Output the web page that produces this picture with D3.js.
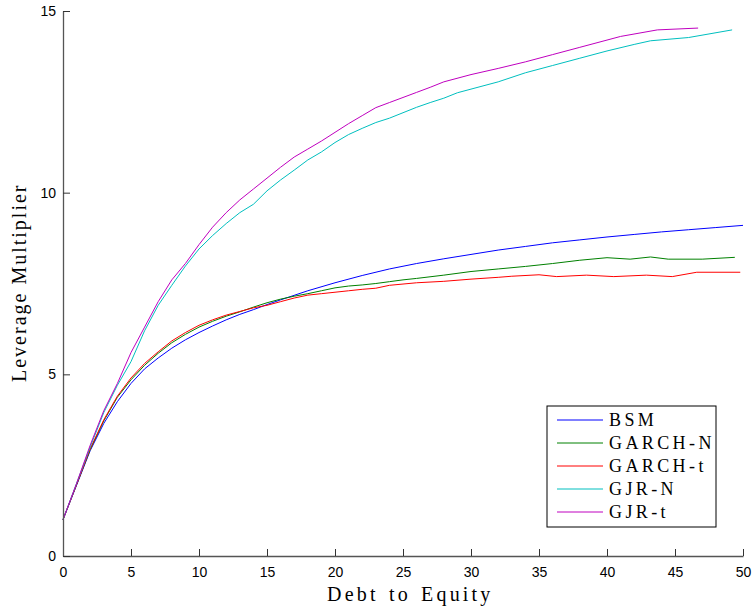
<!DOCTYPE html>
<html>
<head>
<meta charset="utf-8">
<script src="https://cdn.jsdelivr.net/npm/d3@7"></script>
<style>
  html, body { margin: 0; padding: 0; background: #fff; }
  svg { display: block; }
</style>
</head>
<body>
<svg id="chart" width="753" height="608"></svg>
<script>
// ---- Data ----
const seriesNames = ["BSM", "GARCH-N", "GARCH-t", "GJR-N", "GJR-t"];
const seriesColors = ["#0000ff", "#008000", "#ff0000", "#00bfbf", "#bf00bf"];

const bsmX = [0,1,2,3,4,5,6,7,8,9,10,11,12,13,14,15,16,18,20,22,24,26,28,30,32,34,36,38,40,42,44,46,48,50];
const bsmY = [1,1.95,2.9,3.65,4.25,4.75,5.15,5.45,5.72,5.95,6.15,6.33,6.5,6.65,6.78,6.92,7.05,7.3,7.52,7.72,7.9,8.05,8.18,8.3,8.42,8.52,8.62,8.7,8.78,8.85,8.92,8.98,9.04,9.1];

const garchNX = [0,1,2,3,4,5,6,7,8,9,10,11,12,13,14,15,16,17,18,19,20,21,22,23,24,25,26,28,30,32,34,36,38,40,41.7,43.2,44.5,47,49.4];
const garchNY = [1,1.97,2.93,3.72,4.37,4.85,5.25,5.58,5.87,6.1,6.3,6.46,6.6,6.72,6.85,6.97,7.07,7.15,7.22,7.3,7.38,7.43,7.46,7.5,7.55,7.6,7.64,7.73,7.83,7.9,7.97,8.05,8.14,8.21,8.17,8.23,8.17,8.17,8.22];

const garchTX = [0,1,2,3,4,5,6,7,8,9,10,11,12,13,14,15,16,17,18,19,20,21,22,23,24,26,28,30,32,33,35,36.3,38.5,40.5,42.9,44.8,46.6,49.8];
const garchTY = [1,1.97,2.95,3.75,4.4,4.9,5.3,5.62,5.92,6.15,6.35,6.5,6.63,6.73,6.83,6.9,7.0,7.1,7.18,7.22,7.26,7.3,7.34,7.37,7.45,7.52,7.56,7.62,7.67,7.7,7.74,7.69,7.73,7.69,7.73,7.69,7.81,7.81];

const gjrNX = [0,1,2,3,4,5,6,7,8,9,10,11,12,13,14,15,16,17,18,19,20,21,22,23,24,25,26,27,28,29,30,32,34,36,38,40,42,43.2,46,49.2];
const gjrNY = [1,2.0,3.0,3.95,4.7,5.35,6.2,6.9,7.45,7.98,8.45,8.82,9.15,9.45,9.68,10.05,10.35,10.62,10.9,11.12,11.38,11.6,11.77,11.93,12.05,12.2,12.35,12.48,12.6,12.75,12.85,13.05,13.3,13.5,13.7,13.9,14.08,14.18,14.27,14.48];

const gjrTX = [0,1,2,3,4,5,6,7,8,9,10,11,12,13,14,15,16,17,18,19,20,21,22,23,24,25,26,27,28,30,32,34,36,38,40,41,43.7,46.7];
const gjrTY = [1,2.0,3.05,4.0,4.75,5.6,6.3,7.0,7.6,8.05,8.57,9.05,9.45,9.8,10.1,10.4,10.7,10.98,11.2,11.42,11.66,11.9,12.12,12.34,12.48,12.62,12.76,12.9,13.05,13.25,13.42,13.6,13.8,14.0,14.2,14.3,14.48,14.53];

const xTicks = [0,5,10,15,20,25,30,35,40,45,50];
const yTicks = [0,5,10,15];
const xLabel = "Debt to Equity";
const yLabel = "Leverage Multiplier";

const seriesX = [bsmX, garchNX, garchTX, gjrNX, gjrTX];
const seriesY = [bsmY, garchNY, garchTY, gjrNY, gjrTY];

// ---- Layout ----
const svg = d3.select("#chart");
const plot = { left: 63, right: 743, top: 11, bottom: 556 };

const x = d3.scaleLinear().domain([0, 50]).range([plot.left, plot.right]);
const y = d3.scaleLinear().domain([0, 15]).range([plot.bottom, plot.top]);

// Lines
const line = d3.line().x(d => x(d[0])).y(d => y(d[1]));
seriesNames.forEach((name, i) => {
  const pts = seriesX[i].map((v, j) => [v, seriesY[i][j]]);
  svg.append("path")
    .datum(pts)
    .attr("fill", "none")
    .attr("stroke", seriesColors[i])
    .attr("stroke-width", 1)
    .attr("d", line);
});

// Axes
const axisColor = "#555";
const xAxis = d3.axisBottom(x).tickValues(xTicks).tickSizeInner(-7).tickSizeOuter(0).tickPadding(11);
const yAxis = d3.axisLeft(y).tickValues(yTicks).tickSizeInner(-7).tickSizeOuter(0).tickPadding(11);

const gx = svg.append("g").attr("transform", `translate(0,${plot.bottom})`).call(xAxis);
const gy = svg.append("g").attr("transform", `translate(${plot.left},0)`).call(yAxis);

[gx, gy].forEach(g => {
  g.select(".domain").attr("stroke", axisColor).attr("stroke-width", 1.3);
  g.selectAll(".tick line").attr("stroke", "#333").attr("stroke-width", 1);
  g.selectAll(".tick text")
    .attr("fill", "#000")
    .style("font-family", "'Liberation Sans', Arial, Helvetica, sans-serif")
    .style("font-size", "14px");
});
gy.selectAll(".tick text").attr("dx", "4");

// Axis titles
svg.append("text")
  .attr("x", 327)
  .attr("y", 601)
  .attr("text-anchor", "start")
  .style("font-family", "'Liberation Serif', 'Times New Roman', serif")
  .style("font-size", "20px")
  .style("letter-spacing", "3.2px")
  .style("word-spacing", "2px")
  .text(xLabel);

svg.append("text")
  .attr("transform", `translate(26,382) rotate(-90)`)
  .attr("text-anchor", "start")
  .style("font-family", "'Liberation Serif', 'Times New Roman', serif")
  .style("font-size", "20px")
  .style("letter-spacing", "2px")
  .text(yLabel);

// Legend
const lg = svg.append("g").attr("transform", "translate(547,406)");
lg.append("rect")
  .attr("x", 0).attr("y", 0).attr("width", 169).attr("height", 121)
  .attr("fill", "#fff").attr("stroke", "#000").attr("stroke-width", 1);
seriesNames.forEach((name, i) => {
  const cy = 14 + i * 23;
  lg.append("line")
    .attr("x1", 10).attr("x2", 56).attr("y1", cy).attr("y2", cy)
    .attr("stroke", seriesColors[i]).attr("stroke-width", 1);
  lg.append("text")
    .attr("x", 62).attr("y", cy + 6)
    .style("font-family", "'Liberation Serif', 'Times New Roman', serif")
    .style("font-size", "18px")
    .style("letter-spacing", "3.4px")
    .text(name);
});
</script>
</body>
</html>
